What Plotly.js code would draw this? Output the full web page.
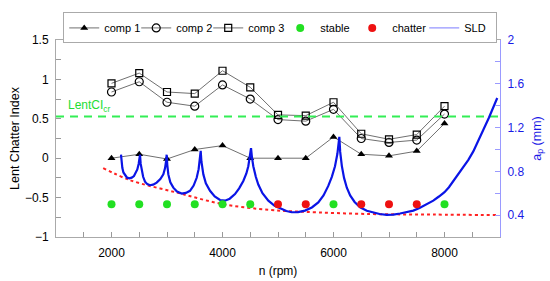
<!DOCTYPE html>
<html>
<head>
<meta charset="utf-8">
<script src="https://cdn.plot.ly/plotly-3.0.1.min.js"></script>
<style>html,body{margin:0;padding:0;background:#fff;}#chart{width:550px;height:281px;}</style>
</head>
<body>
<div id="chart"></div>
<script>
// Spindle speeds of the tests (rpm)
const rpm = [2000, 2500, 3000, 3500, 4000, 4500, 5000, 5500, 6000, 6500, 7000, 7500, 8000];
// Lent chatter index per component
const comp1 = [0.00, 0.05, -0.01, 0.11, 0.16, 0.00, 0.00, 0.00, 0.27, 0.05, 0.03, 0.09, 0.44];
const comp2 = [0.84, 0.97, 0.71, 0.66, 0.93, 0.75, 0.49, 0.47, 0.62, 0.25, 0.20, 0.23, 0.56];
const comp3 = [0.95, 1.08, 0.84, 0.82, 1.11, 0.90, 0.55, 0.54, 0.71, 0.31, 0.24, 0.30, 0.66];
// Critical LentCI threshold
const lentCIcr = 0.53;
// Test points (depth of cut, mm)
const stableRpm = [2000, 2500, 3000, 3500, 4000, 4500, 6000, 8000];
const stableAp = [0.5, 0.5, 0.5, 0.5, 0.5, 0.5, 0.5, 0.5];
const chatterRpm = [5000, 5500, 6500, 7000, 7500];
const chatterAp = [0.5, 0.5, 0.5, 0.5, 0.5];
// Stability lobe diagram
const sldRpm = [
  2171, 2180, 2195, 2215, 2243, 2280, 2321, 2365, 2405, 2440, 2465, 2490, 2505, 2514,
  2525, 2544, 2570, 2604, 2645, 2694, 2750, 2814, 2880, 2934, 2965, 2985, 2994,
  3005, 3024, 3060, 3114, 3180, 3264, 3340, 3414, 3480, 3535, 3570, 3595, 3607,
  3620, 3655, 3700, 3775, 3860, 3955, 4045, 4130, 4225, 4300, 4375, 4430, 4465, 4495, 4514,
  4530, 4555, 4600, 4645, 4720, 4826, 4940, 5066, 5150, 5246, 5360, 5486, 5610, 5726, 5820, 5906, 5970, 6027, 6070, 6105,
  6120, 6150, 6190, 6240, 6300, 6380, 6480, 6600, 6700, 6830, 6958, 7080, 7200, 7320, 7438, 7550, 7650, 7798, 7900,
  8000, 8080, 8159, 8250, 8350, 8430, 8519, 8610, 8700, 8800, 8892, 8950];
const sldAp = [
  0.952, 0.880, 0.832, 0.790, 0.763, 0.742, 0.736, 0.742, 0.757, 0.785, 0.817, 0.870, 0.910, 0.952,
  0.870, 0.802, 0.750, 0.706, 0.683, 0.673, 0.678, 0.697, 0.730, 0.772, 0.830, 0.900, 0.952,
  0.860, 0.772, 0.700, 0.651, 0.615, 0.597, 0.603, 0.622, 0.670, 0.741, 0.820, 0.910, 0.988,
  0.890, 0.772, 0.690, 0.622, 0.570, 0.538, 0.532, 0.550, 0.592, 0.645, 0.712, 0.780, 0.847, 0.930, 1.012,
  0.930, 0.847, 0.750, 0.680, 0.600, 0.532, 0.485, 0.457, 0.437, 0.426, 0.428, 0.441, 0.470, 0.516, 0.580, 0.667, 0.750, 0.847, 0.960, 1.115,
  0.980, 0.850, 0.740, 0.650, 0.580, 0.520, 0.471, 0.440, 0.425, 0.410, 0.403, 0.405, 0.415, 0.425, 0.441, 0.465, 0.490, 0.532, 0.570,
  0.610, 0.655, 0.712, 0.770, 0.840, 0.905, 0.982, 1.075, 1.180, 1.290, 1.408, 1.470];
// Absolute stability limit (lower envelope)
const limRpm = [1850, 2330, 3175, 4010, 4856, 5456, 6658, 7800, 8950];
const limAp = [0.83, 0.72, 0.606, 0.50, 0.447, 0.43, 0.41, 0.405, 0.40];

const BLUE = '#1a1ae6';
const FONT = 'Liberation Sans, Arial, sans-serif';

const traces = [
  {x: rpm, y: comp1, name: 'comp 1', mode: 'lines+markers', yaxis: 'y',
   line: {color: '#707070', width: 1}, marker: {symbol: 'triangle-up', size: 7, color: '#000'}},
  {x: rpm, y: comp2, name: 'comp 2', mode: 'lines+markers', yaxis: 'y',
   line: {color: '#707070', width: 1}, marker: {symbol: 'circle-open', size: 8, color: '#000', line: {width: 1.2}}},
  {x: rpm, y: comp3, name: 'comp 3', mode: 'lines+markers', yaxis: 'y',
   line: {color: '#707070', width: 1}, marker: {symbol: 'square-open', size: 7, color: '#000', line: {width: 1.2}}},
  {x: [1000, 9000], y: [lentCIcr, lentCIcr], mode: 'lines', yaxis: 'y', showlegend: false,
   line: {color: '#33ee55', width: 2, dash: '8px,6px'}, hoverinfo: 'skip'},
  {x: limRpm, y: limAp, mode: 'lines', yaxis: 'y2', showlegend: false,
   line: {color: '#ff2222', width: 2, dash: 'dot', shape: 'spline'}},
  {x: sldRpm, y: sldAp, name: 'SLD', mode: 'lines', yaxis: 'y2', showlegend: false,
   line: {color: '#0a14e6', width: 2.2}},
  {x: stableRpm, y: stableAp, name: 'stable', mode: 'markers', yaxis: 'y2',
   marker: {symbol: 'circle', size: 8, color: '#22e022'}},
  {x: chatterRpm, y: chatterAp, name: 'chatter', mode: 'markers', yaxis: 'y2',
   marker: {symbol: 'circle', size: 8, color: '#ee1111'}},
  {x: [null], y: [null], name: 'SLD', mode: 'lines', yaxis: 'y2',
   line: {color: '#7a7aff', width: 1}}
];

const layout = {
  width: 550, height: 281,
  margin: {l: 56, r: 50, t: 37, b: 44},
  paper_bgcolor: '#fff', plot_bgcolor: '#fff',
  font: {family: FONT, size: 12, color: '#000'},
  showlegend: true,
  legend: {orientation: 'h', x: 0.505, xanchor: 'center', y: 1.14, yanchor: 'top',
    bordercolor: '#aaa', borderwidth: 1, font: {size: 11, family: FONT},
    itemwidth: 30, entrywidth: 27, entrywidthmode: 'pixels', tracegroupgap: 0, traceorder: 'normal'},
  xaxis: {range: [1000, 9000], tick0: 0, dtick: 2000, ticks: 'inside', ticklen: 5,
    tickcolor: '#999', showline: true, linecolor: '#aaa', mirror: true, showgrid: false, zeroline: false,
    minor: {dtick: 500, ticks: 'inside', ticklen: 5, tickcolor: '#999', showgrid: false},
    ticklabelstandoff: 5,
    title: {text: 'n (rpm)', font: {size: 12}, standoff: 7}},
  yaxis: {range: [-1, 1.5], tick0: 0, dtick: 0.5, ticks: 'inside', ticklen: 5,
    tickcolor: '#999', showline: true, linecolor: '#aaa', showgrid: false, zeroline: false,
    minor: {dtick: 0.25, ticks: 'inside', ticklen: 5, tickcolor: '#999', showgrid: false},
    ticklabelstandoff: 4,
    title: {text: 'Lent Chatter Index', font: {size: 12.5}, standoff: 2}},
  yaxis2: {range: [0.2, 2], overlaying: 'y', side: 'right', tick0: 0.4, dtick: 0.4,
    ticks: 'inside', ticklen: 5, tickcolor: '#9a9aff', showline: true, linecolor: '#9a9aff',
    showgrid: false, zeroline: false, tickfont: {color: BLUE, size: 12},
    minor: {dtick: 0.2, tick0: 0.2, ticks: 'inside', ticklen: 5, tickcolor: '#9a9aff', showgrid: false},
    ticklabelstandoff: 4,
    title: {text: 'a<sub>p</sub> (mm)', font: {size: 12.5, color: BLUE}, standoff: 8}},
  annotations: [{x: 1180, y: 0.66, xref: 'x', yref: 'y', xanchor: 'left', yanchor: 'middle',
    text: 'LentCI<sub>cr</sub>', showarrow: false, font: {color: '#22dd33', size: 12}}]
};

Plotly.newPlot('chart', traces, layout, {staticPlot: true, displayModeBar: false});
</script>
</body>
</html>
